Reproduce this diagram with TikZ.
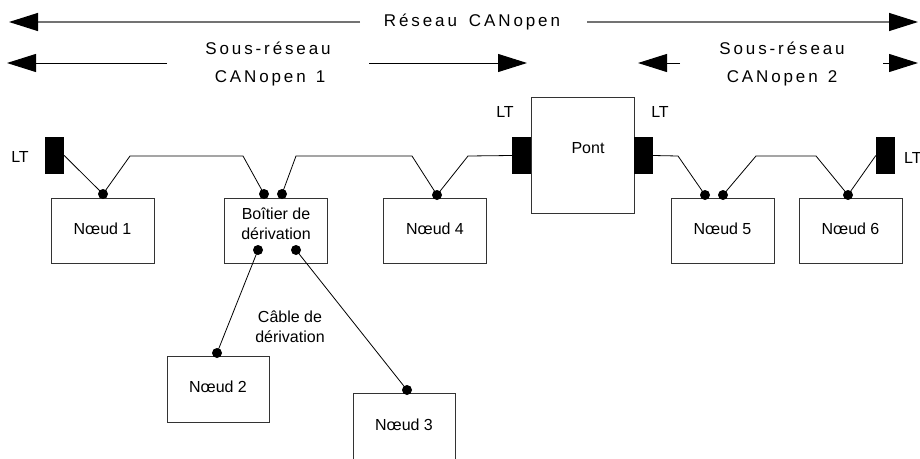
\documentclass[tikz,border=0pt]{standalone}
\usepackage{fontspec}
\setmainfont{Liberation Sans}
\newfontfamily\spacedfont[LetterSpace=17]{Liberation Sans}
\usetikzlibrary{arrows.meta}
\begin{document}
\begin{tikzpicture}[x=1pt,y=-1pt,
  box/.style={draw=black!80, line width=0.9pt, fill=white, inner sep=0pt,
    minimum width=103pt, minimum height=65pt},
  term/.style={fill=black, inner sep=0pt, minimum width=19pt, minimum height=37pt},
  dotc/.style={circle, fill=black, inner sep=0pt, minimum size=10pt},
  wire/.style={line width=0.8pt},
  lbl/.style={font=\fontsize{16}{19}\selectfont, inner sep=0pt},
  toplbl/.style={font=\spacedfont\fontsize{17}{20}\selectfont, inner sep=0pt},
  bigarrow/.style={-{Triangle[length=29pt,width=18pt,color=black]}, line width=1pt}
]
\useasboundingbox (0,0) rectangle (920,458);

% ---- top labels and arrows ----
\node[toplbl] (res) at (472,22) {Réseau\hspace{12pt}CANopen};
\node[toplbl] (sr1a) at (268,48) {Sous-réseau};
\node[toplbl] (sr1b) at (270,78) {CANopen\hspace{10pt}1};
\node[toplbl] (sr2a) at (782,48) {Sous-réseau};
\node[toplbl] (sr2b) at (782,78) {CANopen\hspace{10pt}2};
\coordinate (r1) at (360,22);
\coordinate (r1t) at (9,22);
\coordinate (r2) at (587,22);
\coordinate (r2t) at (918,22);
\coordinate (a1) at (167,63);
\coordinate (a1t) at (7,63);
\coordinate (a2) at (369,63);
\coordinate (a2t) at (527,63);
\coordinate (b1) at (680,63);
\coordinate (b1t) at (638,63);
\coordinate (b2) at (883,63);
\coordinate (b2t) at (918,63);
\draw[bigarrow, draw=black!55, line width=1.2pt] (r1) -- (r1t);
\draw[bigarrow, draw=black!55, line width=1.2pt] (r2) -- (r2t);
\draw[bigarrow] (a1) -- (a1t);
\draw[bigarrow] (a2) -- (a2t);
\draw[bigarrow] (b1) -- (b1t);
\draw[bigarrow] (b2) -- (b2t);

% ---- boxes ----
\node[box] (n1) at (102.5,230.5) {};
\node[lbl] at (102.5,229) {N\oe ud 1};
\node[box] (bx) at (275.5,230.5) {};
\node[lbl, align=center] at (276,223.5) {Boîtier de\\[1pt]dérivation};
\node[box] (n4) at (435,230.5) {};
\node[lbl] at (435,229) {N\oe ud 4};
\node[box, minimum height=116pt] (pont) at (582.5,155) {};
\node[lbl] at (588,148) {Pont};
\node[box] (n5) at (722.5,230.5) {};
\node[lbl] at (722.5,229) {N\oe ud 5};
\node[box] (n6) at (850.5,230.5) {};
\node[lbl] at (850.5,229) {N\oe ud 6};
\node[box, minimum width=102pt, minimum height=66pt] (n2) at (218,389) {};
\node[lbl] at (218,387) {N\oe ud 2};
\draw[draw=black!80, line width=0.9pt] (353,462) -- (353,393) -- (455,393) -- (455,462);
\node[lbl] (n3) at (404,425) {N\oe ud 3};

% ---- terminators ----
\node[term] (tL) at (54.5,155.5) {};
\node[term] (tPL) at (521.5,155.5) {};
\node[term] (tPR) at (643.5,155.5) {};
\node[term] (tR) at (885.5,155.5) {};
\node[lbl] at (20,157) {LT};
\node[lbl] at (505,112) {LT};
\node[lbl] at (660,112) {LT};
\node[lbl, anchor=west] at (904,158) {LT};

% ---- dot positions ----
\coordinate (d1) at (103,194);
\coordinate (bA) at (264,194);
\coordinate (bB) at (282,194);
\coordinate (bC) at (258,250);
\coordinate (bD) at (296,250);
\coordinate (d2) at (217,353);
\coordinate (d3) at (407,390);
\coordinate (d4) at (437,195);
\coordinate (d5a) at (705,195);
\coordinate (d5b) at (723,195);
\coordinate (d6) at (848,195);

% ---- wires ----
\draw[wire] (tL.east) -- (d1) -- (130,156) -- (243,156) -- (bA);
\draw[wire] (bB) -- (296,156) -- (412,156) -- (d4) -- (468,156) -- (tPL.west);
\draw[wire] (tPR.east) -- (678,156) -- (d5a);
\draw[wire] (d5b) -- (756,156) -- (816,156) -- (d6) -- (tR.west);
\draw[wire] (bC) -- (d2);
\draw[wire] (bD) -- (d3);
\node[lbl, align=center] (cable) at (290,327) {Câble de\\[1pt]dérivation};

% ---- dots ----
\foreach \p in {d1,bA,bB,bC,bD,d2,d3,d4,d5a,d5b,d6}
  \node[dotc] at (\p) {};
\end{tikzpicture}
\end{document}
